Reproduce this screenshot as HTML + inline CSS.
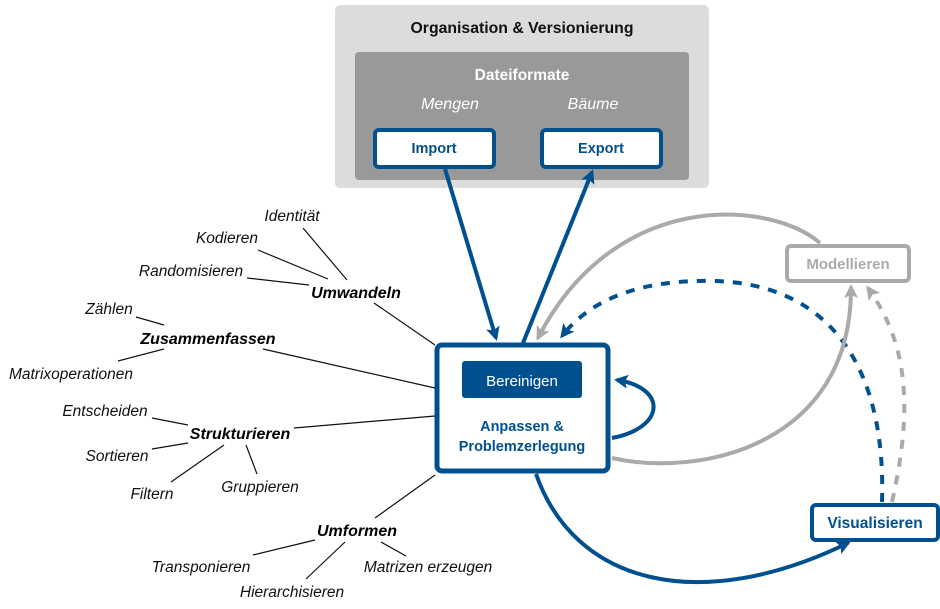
<!DOCTYPE html>
<html><head><meta charset="utf-8"><style>
body{margin:0;background:#fff;}
svg{display:block;font-family:"Liberation Sans",sans-serif;}
.it{font-style:italic;font-size:15.5px;fill:#111;}
.bi{font-style:italic;font-weight:bold;font-size:16px;fill:#000;}
</style></head><body>
<svg width="940" height="609" viewBox="0 0 940 609" xmlns="http://www.w3.org/2000/svg">
<defs>
<marker id="ab2" markerWidth="14" markerHeight="14" refX="11" refY="7" orient="auto" markerUnits="userSpaceOnUse" viewBox="0 0 14 14"><path d="M0,0 L14,7 L0,14 L3,7 z" fill="#00508f"/></marker>
<marker id="ag2" markerWidth="14" markerHeight="14" refX="11" refY="7" orient="auto" markerUnits="userSpaceOnUse" viewBox="0 0 14 14"><path d="M0,0 L14,7 L0,14 L3,7 z" fill="#aaa"/></marker>
</defs>
<rect x="335" y="5" width="374" height="183" rx="5" fill="#dcdcdc"/>
<text x="522" y="33" text-anchor="middle" font-weight="bold" font-size="15.8" fill="#111">Organisation &amp; Versionierung</text>
<rect x="355" y="52" width="334" height="128" rx="4" fill="#999"/>
<text x="522" y="80" text-anchor="middle" font-weight="bold" font-size="15.5" fill="#fff">Dateiformate</text>
<text x="450" y="109" text-anchor="middle" font-style="italic" font-size="16" fill="#fff">Mengen</text>
<text x="593" y="109" text-anchor="middle" font-style="italic" font-size="16" fill="#fff">Bäume</text>
<rect x="375" y="130" width="119" height="37" rx="4" fill="#fff" stroke="#00508f" stroke-width="4"/>
<text x="434" y="153" text-anchor="middle" font-weight="bold" font-size="14.5" fill="#00508f">Import</text>
<rect x="542" y="130" width="119" height="37" rx="4" fill="#fff" stroke="#00508f" stroke-width="4"/>
<text x="601" y="153" text-anchor="middle" font-weight="bold" font-size="14.5" fill="#00508f">Export</text>

<g fill="none" stroke-width="4">
<path d="M445,169 L496,338" stroke="#00508f" marker-end="url(#ab2)"/>
<path d="M523,343 L592,172" stroke="#00508f" marker-end="url(#ab2)"/>
<path d="M820,243 C770,200 615,188 538,338" stroke="#aaa" marker-end="url(#ag2)"/>
<path d="M882,502 C886,380 840,285 715,281 C640,279 590,300 562,336" stroke="#00508f" stroke-dasharray="9,9" marker-end="url(#ab2)"/>
<path d="M612,458 C700,478 852,445 851,287" stroke="#aaa" marker-end="url(#ag2)"/>
<path d="M892,502 C915,400 905,340 868,288" stroke="#aaa" stroke-dasharray="9,9" marker-end="url(#ag2)"/>
<path d="M612,438 C665,428 668,388 617,380" stroke="#00508f" marker-end="url(#ab2)"/>
<path d="M536,474 C575,585 700,615 848,543" stroke="#00508f" marker-end="url(#ab2)"/>
</g>

<rect x="437" y="345" width="171" height="126" rx="5" fill="#fff" stroke="#00508f" stroke-width="5"/>
<rect x="462" y="361" width="120" height="37" rx="3" fill="#00508f"/>
<text x="522" y="386" text-anchor="middle" font-size="15" fill="#fff">Bereinigen</text>
<text x="522" y="431" text-anchor="middle" font-weight="bold" font-size="14.5" fill="#00508f">Anpassen &amp;</text>
<text x="522" y="451" text-anchor="middle" font-weight="bold" font-size="14.5" fill="#00508f">Problemzerlegung</text>

<rect x="787" y="246" width="122" height="35" rx="4" fill="#fff" stroke="#aaa" stroke-width="4"/>
<text x="848" y="269" text-anchor="middle" font-weight="bold" font-size="15" fill="#aaa">Modellieren</text>
<rect x="812" y="505" width="126" height="35" rx="4" fill="#fff" stroke="#00508f" stroke-width="4"/>
<text x="875" y="528" text-anchor="middle" font-weight="bold" font-size="15.5" fill="#00508f">Visualisieren</text>

<g stroke="#111" stroke-width="1.2">
<line x1="303" y1="228" x2="347" y2="280"/>
<line x1="258" y1="250" x2="328" y2="279"/>
<line x1="247" y1="278" x2="309" y2="285"/>
<line x1="374" y1="303" x2="435" y2="345"/>
<line x1="136" y1="317" x2="164" y2="325"/>
<line x1="118" y1="361" x2="164" y2="349"/>
<line x1="263" y1="349" x2="435" y2="388"/>
<line x1="152" y1="418" x2="188" y2="425"/>
<line x1="152" y1="449" x2="188" y2="443"/>
<line x1="171" y1="482" x2="224" y2="445"/>
<line x1="246" y1="445" x2="257" y2="474"/>
<line x1="294" y1="428" x2="435" y2="416"/>
<line x1="375" y1="518" x2="435" y2="475"/>
<line x1="253" y1="555" x2="315" y2="540"/>
<line x1="306" y1="579" x2="345" y2="542"/>
<line x1="381" y1="542" x2="406" y2="556"/>
</g>
<g text-anchor="middle">
<text class="it" x="292" y="221">Identität</text>
<text class="it" x="227" y="243">Kodieren</text>
<text class="it" x="191" y="276">Randomisieren</text>
<text class="bi" x="356" y="298">Umwandeln</text>
<text class="it" x="109" y="314">Zählen</text>
<text class="bi" x="208" y="344">Zusammenfassen</text>
<text class="it" x="71" y="379">Matrixoperationen</text>
<text class="it" x="105" y="416">Entscheiden</text>
<text class="bi" x="240" y="439">Strukturieren</text>
<text class="it" x="117" y="461">Sortieren</text>
<text class="it" x="152" y="499">Filtern</text>
<text class="it" x="260" y="492">Gruppieren</text>
<text class="bi" x="357" y="536">Umformen</text>
<text class="it" x="201" y="572">Transponieren</text>
<text class="it" x="292" y="597">Hierarchisieren</text>
<text class="it" x="428" y="572">Matrizen erzeugen</text>
</g>
</svg>
</body></html>
